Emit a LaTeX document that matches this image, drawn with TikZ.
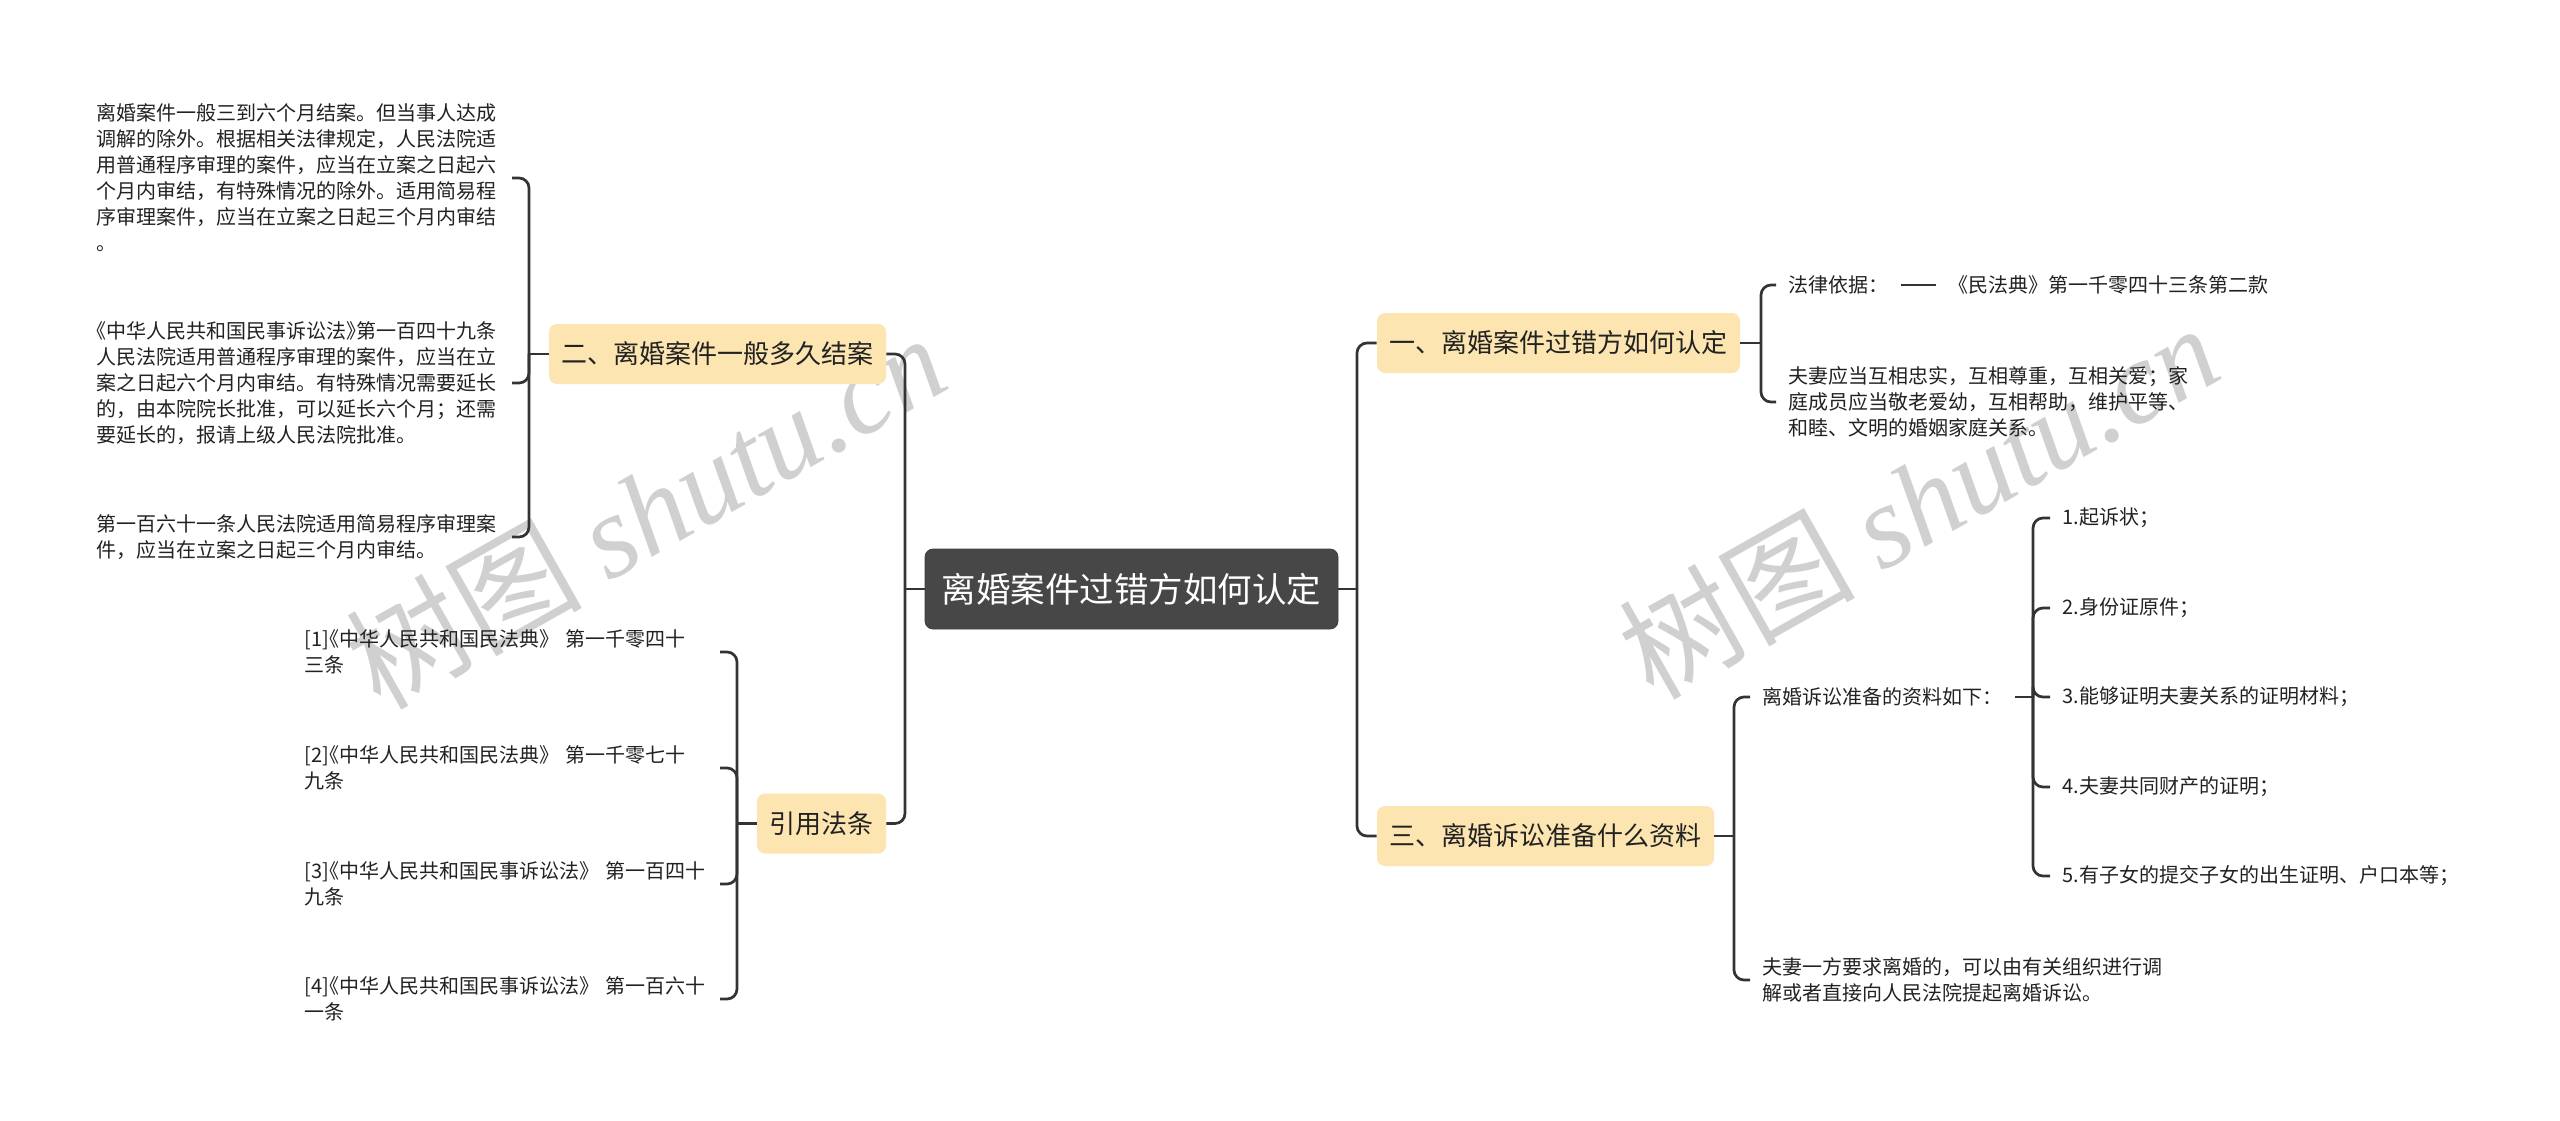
\documentclass[tikz,border=0pt]{standalone}
\usepackage{fontspec}
\setmainfont{Noto Sans CJK SC}
\newfontfamily\wmlatin{Liberation Serif}
\usetikzlibrary{calc}
\definecolor{boxfill}{RGB}{252,229,176}
\definecolor{rootfill}{RGB}{71,71,71}
\definecolor{linec}{RGB}{51,51,51}
\definecolor{txt}{RGB}{34,34,34}
\definecolor{wm}{RGB}{208,208,208}
\newcommand\hb[1]{{\addfontfeature{RawFeature=+halt}#1}}
\begin{document}
\begin{tikzpicture}[x=0.5pt,y=-0.5pt,
  conn/.style={draw=linec,line width=1.35pt},
  curv/.style={conn,rounded corners=5pt},
  root/.style={fill=rootfill,draw=black!75,rounded corners=4pt,minimum width=206.5pt,minimum height=40pt,inner sep=0pt,text=white,font=\fontsize{17.25pt}{20pt}\selectfont},
  topic/.style={fill=boxfill,rounded corners=4pt,minimum height=30pt,inner sep=0pt,text=txt,font=\fontsize{13pt}{16pt}\selectfont},
  leaf/.style={inner xsep=6pt,inner ysep=0pt,align=left,text=txt,font=\fontsize{10pt}{13pt}\selectfont},
  leafw/.style={leaf,text width=201.5pt},
  wmark/.style={rotate=29.5,text=wm,inner sep=0pt,font=\fontsize{59pt}{62pt}\selectfont}
]
\useasboundingbox[fill=white] (0,0) rectangle (2560,1120);

% watermarks
\node[wmark] (wm1) at (645,510) {树图 {\wmlatin\itshape shutu.cn}};
\node[wmark] (wm2) at (1918,500) {树图 {\wmlatin\itshape shutu.cn}};

% main nodes
\node[root] (root) at (1131.5,589) {离婚案件过错方如何认定};
\node[topic,minimum width=181.5pt] (t1) at (1558.5,343) {一、离婚案件过错方如何认定};
\node[topic,minimum width=168.5pt] (t3) at (1545.5,836) {三、离婚诉讼准备什么资料};
\node[topic,minimum width=168.5pt] (t2) at (717.5,354) {二、离婚案件一般多久结案};
\node[topic,minimum width=64.5pt] (t4) at (821.5,823.5) {引用法条};

% right leaves
\node[leaf,anchor=west] (a1) at (1776,285) {法律依据：};
\node[leaf,anchor=west] (a1b) at (1936,285) {《民法典》第一千零四十三条第二款};
\node[leaf,anchor=west] (a2) at (1776,402) {夫妻应当互相忠实，互相尊重，互相关爱；家\\庭成员应当敬老爱幼，互相帮助，维护平等、\\和睦、文明的婚姻家庭关系。};
\node[leaf,anchor=west] (c1) at (1750,697) {离婚诉讼准备的资料如下：};
\node[leaf,anchor=west] (i1) at (2050,518) {1.起诉状；};
\node[leaf,anchor=west] (i2) at (2050,608) {2.身份证原件；};
\node[leaf,anchor=west] (i3) at (2050,697) {3.能够证明夫妻关系的证明材料；};
\node[leaf,anchor=west] (i4) at (2050,787) {4.夫妻共同财产的证明；};
\node[leaf,anchor=west] (i5) at (2050,876) {5.有子女的提交子女的出生证明、户口本等；};
\node[leaf,anchor=west] (c2) at (1750,980) {夫妻一方要求离婚的，可以由有关组织进行调\\解或者直接向人民法院提起离婚诉讼。};

% left leaves
\node[leafw,anchor=east] (b1) at (512,178) {离婚案件一般三到六个月结案。但当事人达成\\调解的除外。根据相关法律规定，人民法院适\\用普通程序审理的案件，应当在立案之日起六\\个月内审结，有特殊情况的除外。适用简易程\\序审理案件，应当在立案之日起三个月内审结\\。};
\node[leafw,anchor=east] (b2) at (512,383) {\hb{《}中华人民共和国民事诉讼法\hb{》}第一百四十九条\\人民法院适用普通程序审理的案件，应当在立\\案之日起六个月内审结。有特殊情况需要延长\\的，由本院院长批准，可以延长六个月；还需\\要延长的，报请上级人民法院批准。};
\node[leafw,anchor=east] (b3) at (512,537) {第一百六十一条人民法院适用简易程序审理案\\件，应当在立案之日起三个月内审结。};
\node[leafw,anchor=east] (r1) at (720,652) {[1]\hb{《}中华人民共和国民法典》 第一千零四十\\三条};
\node[leafw,anchor=east] (r2) at (720,768) {[2]\hb{《}中华人民共和国民法典》 第一千零七十\\九条};
\node[leafw,anchor=east] (r3) at (720,884) {[3]\hb{《}中华人民共和国民事诉讼法》 第一百四十\\九条};
\node[leafw,anchor=east] (r4) at (720,999) {[4]\hb{《}中华人民共和国民事诉讼法》 第一百六十\\一条};

% connectors: root
\coordinate (jr) at (1357,589);
\coordinate (jl) at (905,589);
\draw[conn] (root.east) -- (jr);
\draw[curv] (jr) |- (t1.west);
\draw[curv] (jr) |- (t3.west);
\draw[conn] (root.west) -- (jl);
\draw[curv] (jl) |- (t2.east);
\draw[curv] (jl) |- (t4.east);

% topic 1
\coordinate (j1) at (1761,343);
\draw[conn] (t1.east) -- (j1);
\draw[curv] (j1) |- (a1.west);
\draw[curv] (j1) |- (a2.west);
\draw[conn] (a1.east) -- (a1b.west);

% topic 3
\coordinate (j3) at (1734,836);
\draw[conn] (t3.east) -- (j3);
\draw[curv] (j3) |- (c1.west);
\draw[curv] (j3) |- (c2.west);
\coordinate (jc) at (2033,697);
\draw[conn] (c1.east) -- (jc);
\foreach \n in {i1,i2,i3,i4,i5} \draw[curv] (jc) |- (\n.west);

% topic 2
\coordinate (j2) at (529,354);
\draw[conn] (t2.west) -- (j2);
\foreach \n in {b1,b2,b3} \draw[curv] (j2) |- (\n.east);

% topic 4
\coordinate (j4) at (737,823.5);
\draw[conn] (t4.west) -- (j4);
\foreach \n in {r1,r2,r3,r4} \draw[curv] (j4) |- (\n.east);
\end{tikzpicture}
\end{document}
